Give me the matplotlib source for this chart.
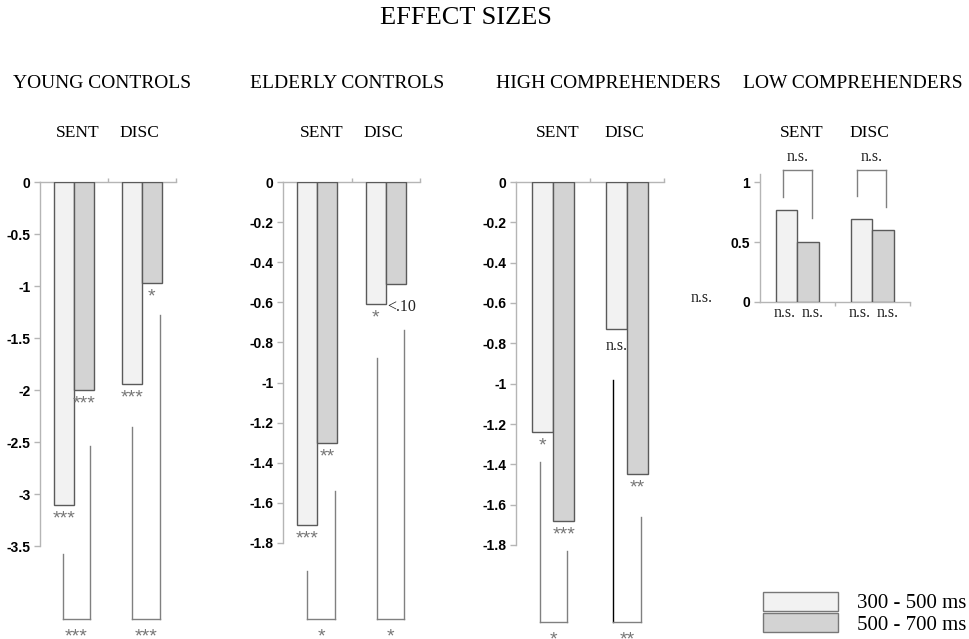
import matplotlib
matplotlib.use("Agg")
import matplotlib.pyplot as plt
import matplotlib.transforms as mtransforms
from matplotlib.patches import Patch

# groups, conditions and time windows
groups = ["YOUNG CONTROLS", "ELDERLY CONTROLS", "HIGH COMPREHENDERS", "LOW COMPREHENDERS"]
conditions = ["SENT", "DISC"]
windows = ["300 - 500 ms", "500 - 700 ms"]

# effect sizes per group [SENT, DISC]
early = [[-3.11, -1.94], [-1.71, -0.61], [-1.24, -0.73], [0.77, 0.69]]
late = [[-2.00, -0.97], [-1.30, -0.51], [-1.68, -1.45], [0.50, 0.60]]

# significance of each bar, and of early vs late
early_sig = [["***", "***"], ["***", "*"], ["*", "n.s."], ["n.s.", "n.s."]]
late_sig = [["***", "*"], ["**", "<.10"], ["***", "**"], ["n.s.", "n.s."]]
window_sig = [["***", "***"], ["*", "*"], ["*", "**"], ["n.s.", "n.s."]]

# comparison brackets: where each leg ends, and the level of the cross bar
bracket_early_end = [[-3.58, -2.36], [-1.94, -0.88], [-1.39, -0.98], [0.88, 0.89]]
bracket_late_end = [[-2.54, -1.28], [-1.54, -0.74], [-1.83, -1.66], [0.70, 0.79]]
bracket_base = [-4.20, -2.18, -2.18, 1.10]

y_ticks = [
    [0, -0.5, -1, -1.5, -2, -2.5, -3, -3.5],
    [0, -0.2, -0.4, -0.6, -0.8, -1, -1.2, -1.4, -1.6, -1.8],
    [0, -0.2, -0.4, -0.6, -0.8, -1, -1.2, -1.4, -1.6, -1.8],
    [0, 0.5, 1],
]
y_limits = [(-3.5, 0), (-1.8, 0), (-1.8, 0), (0, 1.07)]

# layout (pixels in a 970x639 figure)
W, H = 970, 639
boxes = [(40, 182, 176, 546), (283, 182, 420, 543), (516, 182, 664, 545), (760, 174, 910, 302)]
header_x = [102, 347, 608, 853]
legs_x = [[(-0.16, 0.235), (-0.147, 0.265)],
          [(-0.147, 0.265), (-0.132, 0.265)],
          [(-0.176, 0.19), (-0.19, 0.19)],
          [(-0.19, 0.19), (-0.20, 0.18)]]

SERIF = ["Liberation Serif", "DejaVu Serif"]
SANS = ["Liberation Sans Narrow", "Liberation Sans", "DejaVu Sans"]
light, dark = "#f2f2f2", "#d3d3d3"
edge = "#5a5a5a"
axis_col = "#b5b5b5"
star_col = "#777777"
bw = 0.29
PT = 0.72  # points per pixel at 100 dpi

fig = plt.figure(figsize=(W / 100, H / 100), dpi=100)

fig.text(466 / W, 1 - 24 / H, "EFFECT SIZES", ha="center", va="baseline",
         family=SERIF, fontsize=19)


def label(ax, x, y, s, dy_px, dx_px=0, ha="center"):
    if "*" in s:
        kw = dict(family=["Liberation Sans", "DejaVu Sans"], fontsize=14, color=star_col)
        dy_px -= 3
    else:
        kw = dict(family=SERIF, fontsize=11.5, color="#222222")
    ax.annotate(s, (x, y), xytext=(dx_px * PT, -dy_px * PT), textcoords="offset points",
                ha=ha, va="center", annotation_clip=False, **kw)


for i, name in enumerate(groups):
    l, t, r, b = boxes[i]
    ax = fig.add_axes([l / W, 1 - b / H, (r - l) / W, (b - t) / H])
    ax.set_xlim(-0.5, 1.5)
    ax.set_ylim(*y_limits[i])
    positive = y_limits[i][0] >= 0

    ax.bar([k - bw / 2 for k in range(2)], early[i], width=bw, color=light,
           edgecolor=edge, linewidth=1, zorder=3)
    ax.bar([k + bw / 2 for k in range(2)], late[i], width=bw, color=dark,
           edgecolor=edge, linewidth=1, zorder=3)

    for k in range(2):
        # bar labels
        for v, s, off, shift in ((early[i][k], early_sig[i][k], -bw / 2, -2),
                                 (late[i][k], late_sig[i][k], bw / 2, 4)):
            if s == "<.10":
                label(ax, k + off - bw / 2, early[i][k], s, 3, dx_px=2, ha="left")
            elif v < 0:
                label(ax, k + off, v, s, 17)
            else:
                label(ax, k + off, 0, s, 11, dx_px=shift)

        # early vs late bracket
        xl, xr = k + legs_x[i][k][0], k + legs_x[i][k][1]
        base = bracket_base[i]
        col = "black" if (i == 2 and k == 1) else "#808080"
        ax.plot([xl, xl], [bracket_early_end[i][k], base], color=col, lw=1, clip_on=False)
        ax.plot([xl, xr], [base, base], color="#808080", lw=1, clip_on=False)
        ax.plot([xr, xr], [base, bracket_late_end[i][k]], color="#808080", lw=1, clip_on=False)
        label(ax, (xl + xr) / 2, base, window_sig[i][k], -13 if positive else 21)

    # condition labels
    trans = mtransforms.blended_transform_factory(ax.transData, fig.transFigure)
    ax.text(0 + 0.06, 1 - 137 / H, conditions[0], transform=trans, ha="center",
            va="baseline", family=SERIF, fontsize=12.5)
    ax.text(1 - 0.04, 1 - 137 / H, conditions[1], transform=trans, ha="center",
            va="baseline", family=SERIF, fontsize=12.5)
    fig.text(header_x[i] / W, 1 - 88 / H, name, ha="center", va="baseline",
             family=SERIF, fontsize=14)

    # axes styling
    for sp in ax.spines.values():
        sp.set_color(axis_col)
        sp.set_linewidth(1)
    ax.spines["right"].set_visible(False)
    if positive:
        ax.spines["top"].set_visible(False)
    else:
        ax.spines["bottom"].set_visible(False)
        ax.xaxis.tick_top()
    ax.set_xticks([0.5, 1.5])
    ax.set_xticklabels([])
    ax.set_yticks(y_ticks[i])
    ax.set_yticklabels([f"{v:g}" for v in y_ticks[i]])
    ax.tick_params(axis="both", direction="out", length=4, width=1, color=axis_col)
    ax.tick_params(axis="x", length=3)
    ax.tick_params(axis="y", labelsize=10, pad=3)
    for tl in ax.get_yticklabels():
        tl.set_fontweight("bold")
        tl.set_family(SANS)
    ax.patch.set_visible(False)

    if i == 2:
        ax.text(2.01, -0.575, "n.s.", ha="center", va="center", family=SERIF,
                fontsize=11.5, color="#222222")

handles = [Patch(facecolor=light, edgecolor="#777777", linewidth=1),
           Patch(facecolor=dark, edgecolor="#777777", linewidth=1)]
fig.legend(handles, windows, loc="upper left", bbox_to_anchor=(763 / W, 1 - 592 / H),
           frameon=False, borderpad=0, borderaxespad=0, labelspacing=0,
           handlelength=3.6, handleheight=0.99, handletextpad=0.91,
           prop={"family": SERIF, "size": 15})

fig.savefig("out.png", dpi=100)
